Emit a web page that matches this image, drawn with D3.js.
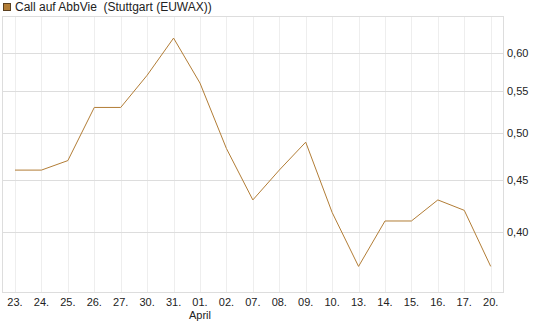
<!DOCTYPE html>
<html>
<head>
<meta charset="utf-8">
<script src="https://cdn.jsdelivr.net/npm/d3@7"></script>
<style>
  body { margin: 0; background: #fff; }
  svg { display: block; font-family: "Liberation Sans", Arial, sans-serif; }
</style>
</head>
<body>
<svg id="chart" width="545" height="327"></svg>
<script>
const days = ['23.','24.','25.','26.','27.','30.','31.','01.','02.','07.','08.','09.','10.','13.','14.','15.','16.','17.','20.']
const prices = [0.46,0.46,0.47,0.53,0.53,0.57,0.62,0.56,0.483,0.43,0.46,0.49,0.418,0.37,0.41,0.41,0.43,0.42,0.37]
const yTicks = [0.40,0.45,0.50,0.55,0.60]
const monthLabels = [{ day: '01.', text: 'April' }]
const title = 'Call auf AbbVie  (Stuttgart (EUWAX))'

const lineColor = '#b27d36'

const svg = d3.select('#chart')
const plot = { left: 2.5, right: 503.5, top: 16.5, bottom: 292.5 }

const x = d3.scalePoint().domain(days).range([15, 490.7])
const y = d3.scaleLog().domain([0.3488, 0.651]).range([plot.bottom, plot.top])

// vertical grid
svg.append('g').selectAll('line').data(days).join('line')
  .attr('x1', d => Math.round(x(d)) + 0.5).attr('x2', d => Math.round(x(d)) + 0.5)
  .attr('y1', plot.top).attr('y2', plot.bottom)
  .attr('stroke', '#eeeeee')

// horizontal grid
svg.append('g').selectAll('line').data(yTicks).join('line')
  .attr('x1', plot.left).attr('x2', plot.right)
  .attr('y1', d => Math.round(y(d)) + 0.5).attr('y2', d => Math.round(y(d)) + 0.5)
  .attr('stroke', '#dddddd')

// frame
svg.append('rect')
  .attr('x', plot.left).attr('y', plot.top)
  .attr('width', plot.right - plot.left).attr('height', plot.bottom - plot.top)
  .attr('fill', 'none').attr('stroke', '#dddddd')

// y labels
svg.append('g').selectAll('text').data(yTicks).join('text')
  .attr('x', 507).attr('y', d => y(d) + 4)
  .attr('font-size', 11).attr('fill', '#222')
  .text(d => d3.format('.2f')(d).replace('.', ','))

// x labels
svg.append('g').selectAll('text').data(days).join('text')
  .attr('x', d => x(d)).attr('y', 305.5)
  .attr('text-anchor', 'middle')
  .attr('font-size', 11).attr('fill', '#222')
  .text(d => d)

svg.append('g').selectAll('text').data(monthLabels).join('text')
  .attr('x', d => x(d.day)).attr('y', 318.5)
  .attr('text-anchor', 'middle')
  .attr('font-size', 11).attr('fill', '#222')
  .text(d => d.text)

// line
const line = d3.line()
  .x((d, i) => x(days[i]))
  .y(d => y(d))

svg.append('path')
  .datum(prices)
  .attr('d', line)
  .attr('fill', 'none')
  .attr('stroke', lineColor)
  .attr('stroke-width', 1)

// legend
svg.append('rect')
  .attr('x', 3.5).attr('y', 3.5).attr('width', 7).attr('height', 7)
  .attr('fill', lineColor).attr('stroke', '#5a4020')
svg.append('text')
  .attr('x', 15).attr('y', 11)
  .attr('font-size', 12).attr('fill', '#222')
  .style('white-space', 'pre')
  .text(title)
</script>
</body>
</html>
